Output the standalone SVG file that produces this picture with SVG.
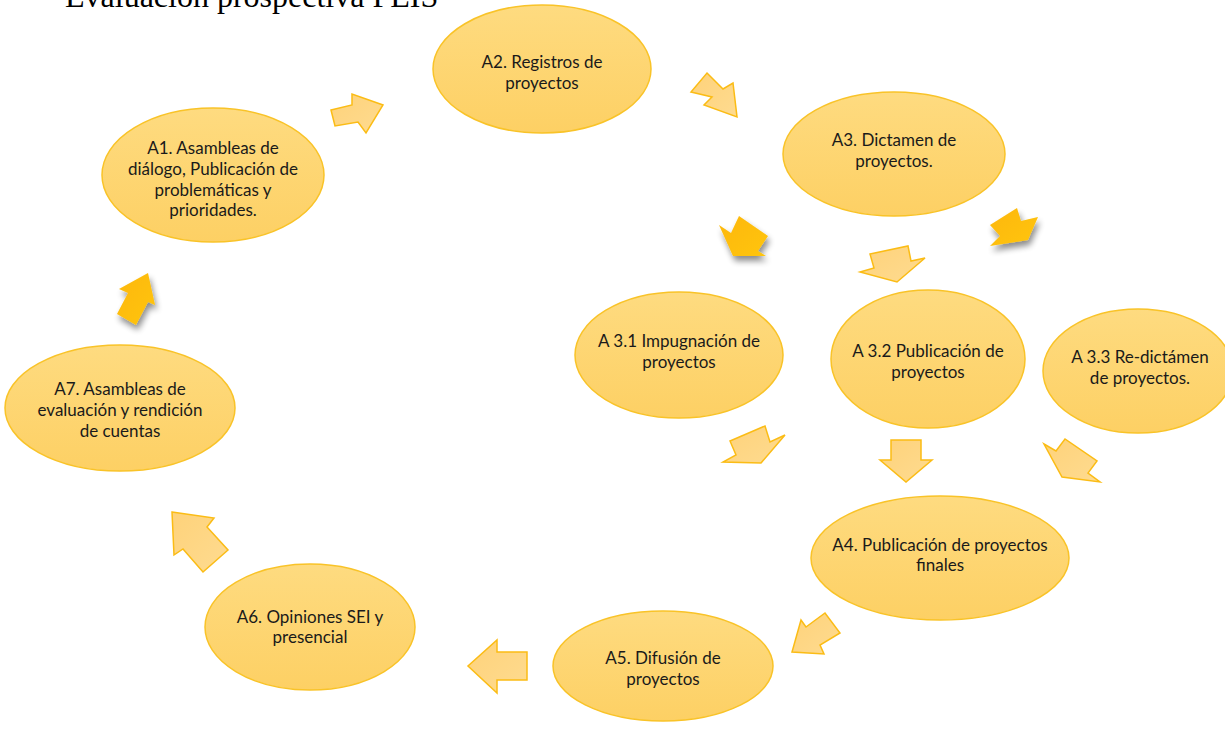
<svg xmlns="http://www.w3.org/2000/svg" width="1225" height="732" viewBox="0 0 1225 732">
<defs>
<linearGradient id="eg" x1="0" y1="0" x2="0" y2="1">
<stop offset="0" stop-color="#fedb80"/>
<stop offset="1" stop-color="#fdd064"/>
</linearGradient>
<linearGradient id="ag" x1="0" y1="0" x2="1" y2="1">
<stop offset="0" stop-color="#fed27a"/>
<stop offset="1" stop-color="#fedb90"/>
</linearGradient>
<linearGradient id="dg" x1="0" y1="0" x2="1" y2="1">
<stop offset="0" stop-color="#fdb70a"/>
<stop offset="1" stop-color="#ffc508"/>
</linearGradient>
<filter id="sh" x="-40%" y="-40%" width="180%" height="180%">
<feGaussianBlur in="SourceAlpha" stdDeviation="3"/>
<feOffset dx="2" dy="5" result="b"/>
<feComponentTransfer><feFuncA type="linear" slope="0.45"/></feComponentTransfer>
<feMerge><feMergeNode/><feMergeNode in="SourceGraphic"/></feMerge>
</filter>
</defs>
<style>
.node ellipse{fill:url(#eg);stroke:#f9c328;stroke-width:1.5}
.node text{font-family:Lato,"Open Sans",sans-serif;font-size:17px;fill:#1a1a1a;text-anchor:middle}
.la{fill:url(#ag);stroke:#fbbc15;stroke-width:1.5;stroke-linejoin:miter}
.da{fill:url(#dg);stroke:none;filter:url(#sh)}
.title{font-family:"Liberation Serif",serif;font-size:32px;fill:#000}
</style>
<rect width="1225" height="732" fill="#fff"/>
<text class="title" x="65" y="7">Evaluación prospectiva PEIS</text>
<g id="connectors">
<polygon class="la" points="331,110 352,105 352,94 383,105 366,133 358,122 335,126"/>
<polygon class="la" points="707,73 723,89 733,83 737,117 704,105 712,97 691,92"/>
<polygon class="da" points="719,225 731,233 739,216 768,236 758,251 766,256 733,256"/>
<polygon class="da" points="990,225 1017,208 1021,221 1038,217 1028,240 990,246 1000,236"/>
<polygon class="la" points="870,254 908,246 911,261 925,258 897,282 860,272 874,268"/>
<polygon class="da" points="119,289 128,293 117,314 136,325 148,302 155,305 148,273"/>
<polygon class="la" points="730,441 765,426 770,442 785,435 761,463 723,462 736,455"/>
<polygon class="la" points="891,440 921,440 921,460 932,460 906,482 880,460 891,460"/>
<polygon class="la" points="1044,444 1056,451 1065,439 1097,461 1088,473 1100,482 1062,477"/>
<polygon class="la" points="806,627 825,613 840,633 820,645 824,654 792,652 801,620"/>
<polygon class="la" points="527,652 497,652 497,640 468,666 497,693 497,680 527,680"/>
<polygon class="la" points="172,512 214,518 207,527 228,550 203,572 183,549 174,555"/>
</g>
<g id="A2" class="node"><ellipse cx="542" cy="69" rx="109" ry="64"/><text x="542" y="68">A2. Registros de</text><text x="542" y="89">proyectos</text></g>
<g id="A3" class="node"><ellipse cx="894" cy="154" rx="111" ry="62"/><text x="894" y="146">A3. Dictamen de</text><text x="894" y="167">proyectos.</text></g>
<g id="A1" class="node"><ellipse cx="213" cy="175" rx="111" ry="67"/><text x="213" y="154">A1. Asambleas de</text><text x="213" y="175">diálogo, Publicación de</text><text x="213" y="196">problemáticas y</text><text x="213" y="216">prioridades.</text></g>
<g id="A31" class="node"><ellipse cx="679" cy="355" rx="104" ry="63"/><text x="679" y="347">A 3.1 Impugnación de</text><text x="679" y="368">proyectos</text></g>
<g id="A32" class="node"><ellipse cx="928" cy="359" rx="97" ry="69"/><text x="928" y="357">A 3.2 Publicación de</text><text x="928" y="378">proyectos</text></g>
<g id="A33" class="node"><ellipse cx="1138" cy="371" rx="95" ry="62"/><text x="1140" y="363">A 3.3 Re-dictámen</text><text x="1140" y="384">de proyectos.</text></g>
<g id="A7" class="node"><ellipse cx="120" cy="408" rx="115" ry="63"/><text x="120" y="395">A7. Asambleas de</text><text x="120" y="416">evaluación y rendición</text><text x="120" y="437">de cuentas</text></g>
<g id="A4" class="node"><ellipse cx="940" cy="558" rx="129" ry="62"/><text x="940" y="551">A4. Publicación de proyectos</text><text x="940" y="571">finales</text></g>
<g id="A6" class="node"><ellipse cx="310" cy="627" rx="105" ry="63"/><text x="310" y="623">A6. Opiniones SEI y</text><text x="310" y="643">presencial</text></g>
<g id="A5" class="node"><ellipse cx="663" cy="666" rx="110" ry="55"/><text x="663" y="664">A5. Difusión de</text><text x="663" y="685">proyectos</text></g>
</svg>
